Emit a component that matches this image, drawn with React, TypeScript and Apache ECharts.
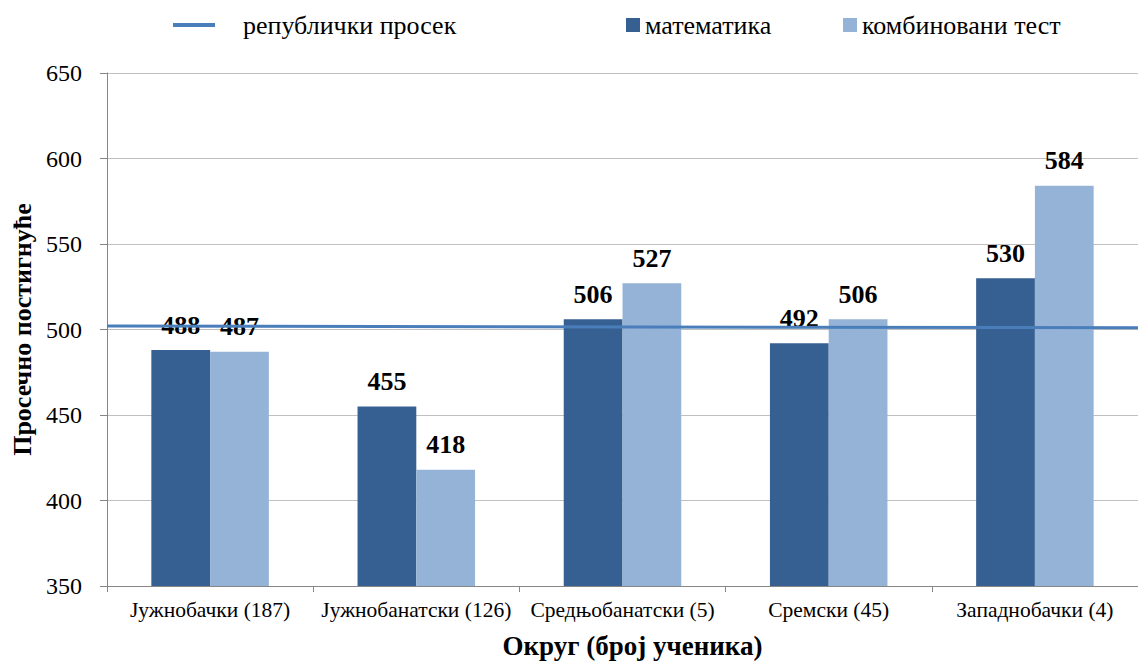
import React, { useEffect, useRef } from "react";
import * as echarts from "echarts";

const categories = [
  "Јужнобачки (187)",
  "Јужнобанатски (126)",
  "Средњобанатски (5)",
  "Сремски (45)",
  "Западнобачки (4)",
];
const mathValues = [488, 455, 506, 492, 530];
const combinedValues = [487, 418, 527, 506, 584];
const nationalAverage = [
  [0, 502],
  [1, 501],
];
const yTicks = { min: 350, max: 650, interval: 50 };

const FONT = "'Liberation Serif', 'Times New Roman', serif";
const DARK = "#376092";
const LIGHT = "#95b3d7";
const LINE = "#4a7ebb";

export default function App() {
  const ref = useRef<HTMLDivElement>(null);
  useEffect(() => {
    if (!ref.current) return;
    const chart = echarts.init(ref.current, undefined, { renderer: "svg" });
    const labelStyle = {
      show: true,
      position: "top" as const,
      distance: 12,
      fontFamily: FONT,
      fontWeight: "bold" as const,
      fontSize: 26,
      color: "#000",
    };
    const legendText = { fontFamily: FONT, fontWeight: "normal" as const, fontSize: 26, color: "#000" };
    chart.setOption({
      animation: false,
      textStyle: { fontFamily: FONT, color: "#000" },
      grid: { left: 107, top: 73, width: 1038, height: 516, containLabel: false },
      legend: [
        {
          data: ["републички просек"],
          left: 173,
          top: 12,
          padding: 0,
          icon: "rect",
          itemWidth: 42,
          itemHeight: 4,
          textStyle: { ...legendText, padding: [0, 0, 0, 23] },
        },
        {
          data: ["математика"],
          left: 626,
          top: 12,
          padding: 0,
          icon: "rect",
          itemWidth: 14,
          itemHeight: 14,
          textStyle: legendText,
        },
        {
          data: ["комбиновани тест"],
          left: 843,
          top: 12,
          padding: 0,
          icon: "rect",
          itemWidth: 14,
          itemHeight: 14,
          textStyle: legendText,
        },
      ],
      xAxis: [
        {
          type: "category",
          data: categories,
          name: "Округ (број ученика)",
          nameLocation: "middle",
          nameGap: 46,
          nameTextStyle: {
            fontFamily: FONT,
            fontWeight: "bold",
            fontSize: 27,
            color: "#000",
            padding: [0, 0, 0, 20],
          },
          axisLine: { lineStyle: { color: "#868686", width: 1 } },
          axisTick: { show: true, length: 6, lineStyle: { color: "#868686" } },
          axisLabel: { fontFamily: FONT, fontWeight: "normal", fontSize: 21.5, color: "#000", margin: 13, interval: 0 },
        },
        {
          type: "value",
          min: 0,
          max: 1,
          show: false,
        },
      ],
      yAxis: {
        type: "value",
        min: yTicks.min,
        max: yTicks.max,
        interval: yTicks.interval,
        name: "Просечно постигнуће",
        nameLocation: "middle",
        nameGap: 72,
        nameTextStyle: { fontFamily: FONT, fontWeight: "bold", fontSize: 26, color: "#000" },
        axisLine: { show: true, lineStyle: { color: "#868686", width: 1 } },
        axisTick: { show: true, length: 7, lineStyle: { color: "#868686" } },
        axisLabel: { fontFamily: FONT, fontWeight: "normal", fontSize: 24, color: "#000", margin: 25 },
        splitLine: { show: true, lineStyle: { color: "#c0c0c0", width: 1 } },
      },
      series: [
        {
          name: "математика",
          type: "bar",
          data: mathValues,
          itemStyle: { color: DARK },
          barGap: "0%",
          barCategoryGap: "43%",
          label: labelStyle,
          z: 2,
        },
        {
          name: "комбиновани тест",
          type: "bar",
          data: combinedValues,
          itemStyle: { color: LIGHT },
          barGap: "0%",
          barCategoryGap: "43%",
          label: labelStyle,
          z: 2,
        },
        {
          name: "републички просек",
          type: "line",
          xAxisIndex: 1,
          data: nationalAverage,
          color: LINE,
          lineStyle: { color: LINE, width: 3 },
          itemStyle: { color: LINE },
          symbol: "none",
          clip: false,
          z: 5,
        },
      ],
    });
    return () => chart.dispose();
  }, []);
  return (
    <div
      ref={ref}
      style={{ position: "absolute", left: 0, top: 0, width: 1138, height: 664, background: "#fff" }}
    />
  );
}
